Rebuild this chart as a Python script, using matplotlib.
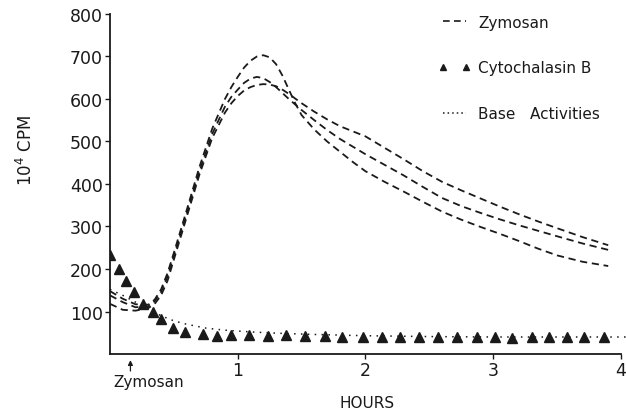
import matplotlib
matplotlib.use("Agg")
import matplotlib.pyplot as plt
from matplotlib.lines import Line2D
import matplotlib.transforms as mtransforms

# --- data (hours, 10^4 CPM) ---
zym_hours = [0, 0.1, 0.2, 0.3, 0.35, 0.4, 0.45, 0.5, 0.6, 0.7, 0.8, 0.9,
             0.95, 1.0, 1.05, 1.1, 1.15, 1.2, 1.25, 1.3, 1.35, 1.4, 1.45,
             1.5, 1.6, 1.7, 1.8, 1.9, 2.0, 2.15, 2.3, 2.45, 2.6, 2.75, 2.9,
             3.05, 3.2, 3.35, 3.5, 3.7, 3.9]
zym_run1 = [148, 130, 117, 116, 128, 152, 190, 238, 338, 440, 530, 600,
            628, 652, 674, 690, 700, 703, 698, 682, 655, 622, 590,
            562, 528, 500, 476, 452, 430, 405, 382, 358, 335, 316, 299,
            283, 266, 248, 232, 217, 207]
zym_run2 = [138, 122, 110, 112, 124, 146, 182, 230, 330, 430, 518, 582,
            605, 622, 638, 648, 652, 649, 640, 628, 614, 600, 587,
            574, 550, 527, 506, 488, 470, 445, 420, 393, 367, 348, 332,
            317, 303, 290, 277, 260, 245]
zym_run3 = [118, 104, 102, 108, 118, 138, 172, 222, 322, 422, 508, 568,
            590, 607, 620, 628, 633, 635, 634, 630, 622, 612, 601,
            590, 570, 552, 536, 524, 512, 485, 458, 430, 405, 385, 366,
            347, 329, 312, 296, 275, 256]

cyto_hours = [0, 0.07, 0.125, 0.19, 0.26, 0.34, 0.4, 0.49, 0.59, 0.73, 0.84,
              0.95, 1.09, 1.24, 1.38, 1.53, 1.68, 1.82, 1.98, 2.13, 2.27, 2.42,
              2.57, 2.72, 2.87, 3.01, 3.15, 3.30, 3.44, 3.58, 3.71, 3.87]
cyto_cpm = [232, 200, 172, 146, 118, 99, 82, 62, 52, 47, 42,
            45, 44, 43, 44, 42, 42, 41, 40, 41, 40, 40,
            40, 39, 40, 39, 38, 40, 39, 39, 40, 40]

base_hours = [0, 0.1, 0.2, 0.3, 0.4, 0.5, 0.6, 0.75, 0.9, 1.1, 1.3, 1.6,
              2.0, 2.5, 3.0, 3.5, 4.05]
base_cpm = [152, 138, 122, 106, 90, 78, 70, 61, 56, 52, 49, 46,
            43, 41, 40, 40, 40]

x_ticks = [1, 2, 3, 4]
y_ticks = [100, 200, 300, 400, 500, 600, 700, 800]

ink = "#1a1a1a"
dash = (0, (4, 2.6))

fig = plt.figure(figsize=(6.26, 4.14), dpi=100)
ax = fig.add_axes([0.1757, 0.1425, 0.8163, 0.8213])

for run in (zym_run1, zym_run2, zym_run3):
    ax.plot(zym_hours, run, color=ink, linestyle=dash, linewidth=1.3)

ax.plot(base_hours, base_cpm, color=ink, linestyle=(0, (1, 3.5)),
        linewidth=1.1, clip_on=False)
ax.plot(cyto_hours, cyto_cpm, linestyle="none", marker="^", markersize=6.5,
        color=ink)

ax.set_xlim(0, 4)
ax.set_ylim(0, 800)
ax.set_xticks(x_ticks)
ax.set_yticks(y_ticks)
ax.tick_params(axis="both", direction="out", length=3.5, width=1,
               labelsize=12.5, pad=1.5, colors=ink)
for side in ("top", "right"):
    ax.spines[side].set_visible(False)
for side in ("left", "bottom"):
    ax.spines[side].set_linewidth(1.3)
    ax.spines[side].set_color(ink)

ax.set_ylabel(r"10$^4$ CPM", fontsize=12, color=ink)
ax.yaxis.set_label_coords(-0.145, 0.6)
ax.set_xlabel("HOURS", fontsize=11, color=ink, va="center")
ax.xaxis.set_label_coords(0.503, -0.143)

# zymosan addition marker under the axis
trans = mtransforms.blended_transform_factory(ax.transData, ax.transAxes)
ax.annotate("", xy=(0.16, -0.018), xycoords=trans,
            xytext=(0.16, -0.05), textcoords=trans,
            arrowprops=dict(arrowstyle="-|>", color=ink, lw=0.9,
                            mutation_scale=7, shrinkA=0, shrinkB=0))
ax.text(0.03, -0.08, "Zymosan", transform=trans, fontsize=11,
        ha="left", va="center", color=ink)

# legend without frame, top right
handles = [
    Line2D([], [], color=ink, linestyle=(0, (4, 2.6)), linewidth=1.2),
    Line2D([], [], color=ink, linestyle="none", marker="^", markersize=5),
    Line2D([], [], color=ink, linestyle=(0, (1, 2)), linewidth=1.1),
]
labels = ["Zymosan", "Cytochalasin B", "Base   Activities"]
fig.legend(handles, labels, loc="upper left",
           bbox_to_anchor=(425 / 626, 1 - 2 / 414), frameon=False,
           fontsize=11, labelspacing=2.0, handlelength=2.1,
           handletextpad=0.5, numpoints=2, labelcolor=ink)

fig.savefig("out.png", dpi=100)
